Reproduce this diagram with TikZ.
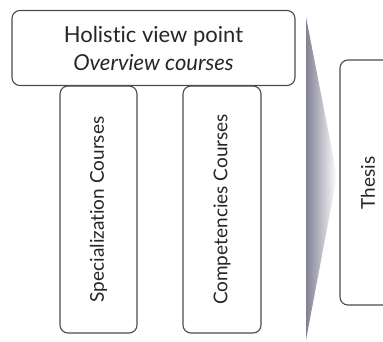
\documentclass[tikz,border=0pt]{standalone}
\usepackage{fontspec}
\setmainfont{Lato}[Ligatures=NoCommon]
\begin{document}
\begin{tikzpicture}[x=1pt,y=-1pt,
  box/.style={draw=black!70, line width=1.1pt, rounded corners=8pt, fill=white, inner sep=0pt},
  lbl/.style={text=black!85, font=\fontsize{19}{28}\selectfont}]
\useasboundingbox (0,0) rectangle (383,342);
\clip (0,0) rectangle (383,342);
% vertical course columns
\node[box, minimum width=77pt, minimum height=247pt] (spec) at (98.5,209.5) {};
\node[box, minimum width=78pt, minimum height=247pt] (comp) at (222,209.5) {};
\node[lbl, rotate=90] at (spec.center) {Specialization Courses};
\node[lbl, rotate=90] at (comp.center) {Competencies Courses};
% overview box on top
\node[box, minimum width=283pt, minimum height=75pt] (holistic) at (153.5,48) {};
\node[lbl, align=center, font=\fontsize{22}{28}\selectfont] at (holistic.center)
  {Holistic view point\\ \textit{Overview courses}};
% wedge pointing towards the thesis
\shade[left color=black!20!blue!10!gray!90, right color=white]
  (306,17) -- (337,176) -- (306,340) -- cycle;
% thesis box, running past the right edge
\node[box, minimum width=80pt, minimum height=245pt] (thesis) at (380,182.5) {};
\node[lbl, rotate=90] at (368,183) {Thesis};
\end{tikzpicture}
\end{document}
